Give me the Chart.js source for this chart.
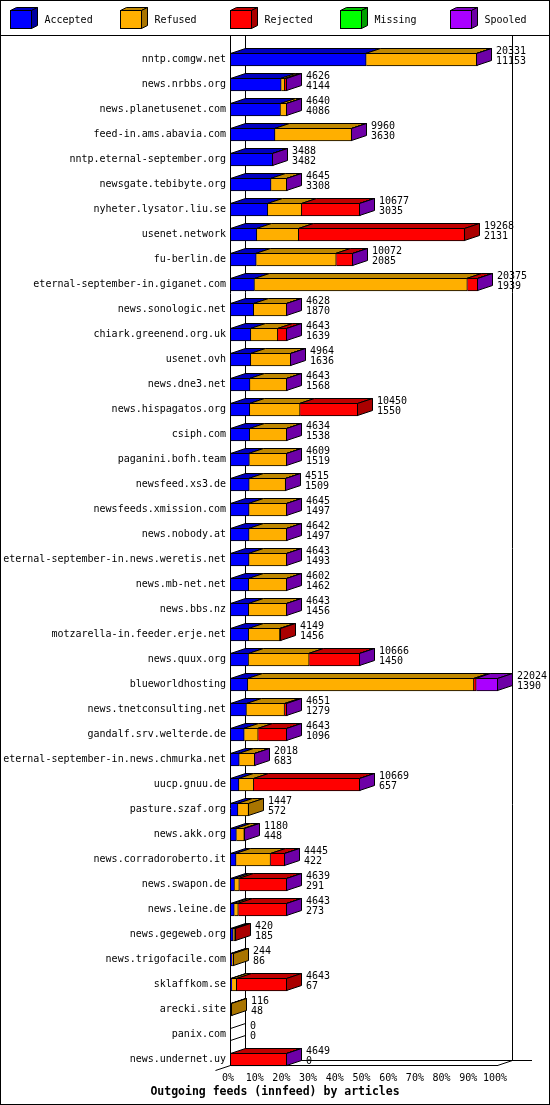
<!DOCTYPE html>
<html>
<head>
<meta charset="utf-8">
<script src="https://cdn.jsdelivr.net/npm/chart.js@4.4.0/dist/chart.umd.min.js"></script>
<style>
  html, body { margin: 0; padding: 0; background: #ffffff; }
  #wrap { width: 550px; height: 1105px; position: relative; }
</style>
</head>
<body>
<div id="wrap"><canvas id="feeds"></canvas></div>
<script>
const hosts = [
    "nntp.comgw.net", "news.nrbbs.org", "news.planetusenet.com", "feed-in.ams.abavia.com",
    "nntp.eternal-september.org", "newsgate.tebibyte.org", "nyheter.lysator.liu.se",
    "usenet.network", "fu-berlin.de", "eternal-september-in.giganet.com", "news.sonologic.net",
    "chiark.greenend.org.uk", "usenet.ovh", "news.dne3.net", "news.hispagatos.org", "csiph.com",
    "paganini.bofh.team", "newsfeed.xs3.de", "newsfeeds.xmission.com", "news.nobody.at",
    "eternal-september-in.news.weretis.net", "news.mb-net.net", "news.bbs.nz",
    "motzarella-in.feeder.erje.net", "news.quux.org", "blueworldhosting",
    "news.tnetconsulting.net", "gandalf.srv.welterde.de", "eternal-september-in.news.chmurka.net",
    "uucp.gnuu.de", "pasture.szaf.org", "news.akk.org", "news.corradoroberto.it",
    "news.swapon.de", "news.leine.de", "news.gegeweb.org", "news.trigofacile.com",
    "sklaffkom.se", "arecki.site", "panix.com", "news.undernet.uy",
];

// articles offered / accepted (printed next to each bar)
const offered = [20331, 4626, 4640, 9960, 3488, 4645, 10677, 19268, 10072, 20375, 4628, 4643, 4964, 4643, 10450, 4634, 4609, 4515, 4645, 4642, 4643, 4602, 4643, 4149, 10666, 22024, 4651, 4643, 2018, 10669, 1447, 1180, 4445, 4639, 4643, 420, 244, 4643, 116, 0, 4649];
const accepted = [11153, 4144, 4086, 3630, 3482, 3308, 3035, 2131, 2085, 1939, 1870, 1639, 1636, 1568, 1550, 1538, 1519, 1509, 1497, 1497, 1493, 1462, 1456, 1456, 1450, 1390, 1279, 1096, 683, 657, 572, 448, 422, 291, 273, 185, 86, 67, 48, 0, 0];
// estimated from the bar segments
const refused = [9170, 290, 530, 6320, 0, 1320, 2800, 3450, 6600, 17560, 2748, 2220, 3318, 3065, 4150, 3086, 3080, 2996, 3138, 3135, 3140, 3130, 3177, 2580, 5000, 18644, 3140, 1150, 1325, 1220, 875, 652, 2840, 400, 332, 145, 158, 400, 68, 0, 0];
const rejected = [0, 150, 0, 0, 0, 0, 4830, 13687, 1377, 866, 0, 774, 0, 0, 4750, 0, 0, 0, 0, 0, 0, 0, 0, 113, 4206, 200, 222, 2387, 0, 8782, 0, 0, 1173, 3938, 4028, 90, 0, 4176, 0, 0, 4639];
const missing = [0, 0, 0, 0, 0, 0, 0, 0, 0, 0, 0, 0, 0, 0, 0, 0, 0, 0, 0, 0, 0, 0, 0, 0, 0, 0, 0, 0, 0, 0, 0, 0, 0, 0, 0, 0, 0, 0, 0, 0, 0];
const spooled = [8, 42, 24, 10, 6, 17, 12, 0, 10, 10, 10, 10, 10, 10, 0, 10, 10, 10, 10, 10, 10, 10, 10, 0, 10, 1790, 10, 10, 10, 10, 0, 80, 10, 10, 10, 0, 0, 0, 0, 0, 10];

const seriesNames = ["Accepted", "Refused", "Rejected", "Missing", "Spooled"];
const seriesData = [accepted, refused, rejected, missing, spooled];
const frontColors = ["#0000ff", "#ffaf00", "#ff0000", "#00ff00", "#aa00ff"];
const topColors = ["#0000c0", "#c08800", "#c00000", "#00c000", "#7f00bf"];
const sideColors = ["#0000a0", "#a87400", "#aa0000", "#00a000", "#6e00a6"];

const maxOffered = Math.max(...offered);
const mono = "'DejaVu Sans Mono', 'Liberation Mono', monospace";
const DX = 15, DY = 5;

const poly = (ctx, pts, fill) => {
    ctx.beginPath();
    ctx.moveTo(pts[0][0], pts[0][1]);
    for (let k = 1; k < pts.length; k++) ctx.lineTo(pts[k][0], pts[k][1]);
    ctx.closePath();
    if (fill) {
        ctx.fillStyle = fill;
        ctx.fill();
    }
    ctx.stroke();
};

const line = (ctx, x1, y1, x2, y2) => {
    ctx.beginPath();
    ctx.moveTo(x1, y1);
    ctx.lineTo(x2, y2);
    ctx.stroke();
};

// walls and floor of the 3d box, behind the bars
const wallsPlugin = {
    id: "walls",
    beforeDatasetsDraw(chart) {
        const ctx = chart.ctx;
        const xs = chart.scales.x;
        const left = xs.getPixelForValue(0);
        const right = Math.round(xs.getPixelForValue(maxOffered));
        ctx.save();
        ctx.strokeStyle = "#000000";
        ctx.lineWidth = 1;
        line(ctx, left - 0.5 + DX, 36, left - 0.5 + DX, 1061);
        line(ctx, right + DX - 0.5, 36, right + DX - 0.5, 1061);
        line(ctx, left + DX, 1060.5, 532, 1060.5);
        ctx.restore();
    },
    afterDatasetsDraw(chart) {
        const ctx = chart.ctx;
        const xs = chart.scales.x;
        const left = xs.getPixelForValue(0);
        const right = Math.round(xs.getPixelForValue(maxOffered));
        ctx.save();
        ctx.strokeStyle = "#000000";
        ctx.lineWidth = 1;

        // 3d faces of each bar
        for (let i = 0; i < hosts.length; i++) {
            let last = -1;
            let el0 = null;
            seriesData.forEach((s, d) => { if (s[i] > 0) last = d; });
            for (let d = 0; d < seriesData.length; d++) {
                const el = chart.getDatasetMeta(d).data[i];
                const p = el.getProps(["x", "y", "base", "height"], true);
                if (!el0) el0 = p;
                if (seriesData[d][i] <= 0) continue;
                const t = p.y - p.height / 2 + 0.5;
                const b = p.y + p.height / 2 - 0.5;
                const xb = Math.round(p.base) - 0.5;
                const xe = Math.round(p.x) - 0.5;
                poly(ctx, [[xb, t], [xe, t], [xe + DX, t - DY], [xb + DX, t - DY]], topColors[d]);
                if (d === last) {
                    poly(ctx, [[xe, t], [xe + DX, t - DY], [xe + DX, b - DY], [xe, b]], sideColors[d]);
                }
            }
            const pl = chart.getDatasetMeta(seriesData.length - 1).data[i].getProps(["x", "y", "height"], true);
            const t = pl.y - pl.height / 2 + 0.5;
            const b = pl.y + pl.height / 2 - 0.5;
            if (last < 0) {
                line(ctx, left - 0.5, t, left - 0.5 + DX, t - DY);
                line(ctx, left - 0.5, b, left - 0.5 + DX, b - DY);
            }
            ctx.fillStyle = "#000000";
            ctx.font = "10px " + mono;
            ctx.textAlign = "left";
            ctx.textBaseline = "middle";
            const lx = Math.round(pl.x) + 19;
            ctx.fillText(String(offered[i]), lx, t - 2.5);
            ctx.fillText(String(accepted[i]), lx, t + 7.5);
        }

        // front axis and floor
        line(ctx, left - 0.5, 36, left - 0.5, 1066);
        line(ctx, left, 1065.5, right, 1065.5);
        line(ctx, right - 0.5, 1065.5, right - 0.5 + DX, 1060.5);
        line(ctx, left - 0.5 - DX, 1070.5, left - 0.5, 1065.5);

        // legend
        ctx.font = "10px " + mono;
        ctx.textBaseline = "middle";
        seriesNames.forEach((name, k) => {
            const x0 = 10.5 + 110 * k;
            const y0 = 10.5;
            ctx.fillStyle = frontColors[k];
            ctx.fillRect(x0, y0, 21, 18);
            ctx.strokeRect(x0, y0, 21, 18);
            poly(ctx, [[x0, y0], [x0 + 21, y0], [x0 + 27, y0 - 3], [x0 + 6, y0 - 3]], topColors[k]);
            poly(ctx, [[x0 + 21, y0], [x0 + 27, y0 - 3], [x0 + 27, y0 + 15], [x0 + 21, y0 + 18]], sideColors[k]);
            ctx.fillStyle = "#000000";
            ctx.fillText(name, x0 + 34, 20);
        });
        line(ctx, 0, 35.5, 550, 35.5);

        // title
        ctx.font = "bold 11.5px " + mono;
        ctx.textAlign = "center";
        ctx.fillText("Outgoing feeds (innfeed) by articles", 275, 1092);

        ctx.strokeRect(0.5, 0.5, 549, 1104);
        ctx.restore();
    },
};

const datasets = seriesNames.map((name, d) => ({
    label: name,
    data: seriesData[d],
    backgroundColor: frontColors[d],
    borderColor: "#000000",
    borderWidth: { top: 1, bottom: 1, right: 1, left: 0 },
    borderSkipped: false,
    barThickness: 13,
}));

new Chart(document.getElementById("feeds"), {
    type: "bar",
    plugins: [wallsPlugin],
    data: { labels: hosts, datasets: datasets },
    options: {
        indexAxis: "y",
        responsive: true,
        maintainAspectRatio: false,
        animation: false,
        layout: { padding: { left: 0, right: 52, top: 47, bottom: 0 } },
        plugins: {
            legend: { display: false },
            tooltip: { enabled: false },
        },
        scales: {
            x: {
                stacked: true,
                min: 0,
                max: maxOffered,
                grid: { display: false, drawTicks: false },
                border: { display: false },
                afterFit: (s) => { s.height = 33; },
                afterBuildTicks: (s) => {
                    s.ticks = [0, 1, 2, 3, 4, 5, 6, 7, 8, 9, 10].map((k) => ({ value: maxOffered * k / 10 }));
                },
                ticks: {
                    color: "#000000",
                    font: { family: mono, size: 10 },
                    padding: 0,
                    labelOffset: -3,
                    maxRotation: 0,
                    autoSkip: false,
                    callback: (v) => Math.round(v / maxOffered * 100) + "%",
                },
            },
            y: {
                stacked: true,
                grid: { display: false, drawTicks: false },
                border: { display: false },
                afterFit: (s) => { s.width = 231; },
                ticks: {
                    color: "#000000",
                    font: { family: mono, size: 10 },
                    padding: 5,
                    autoSkip: false,
                },
            },
        },
    },
});
</script>
</body>
</html>
